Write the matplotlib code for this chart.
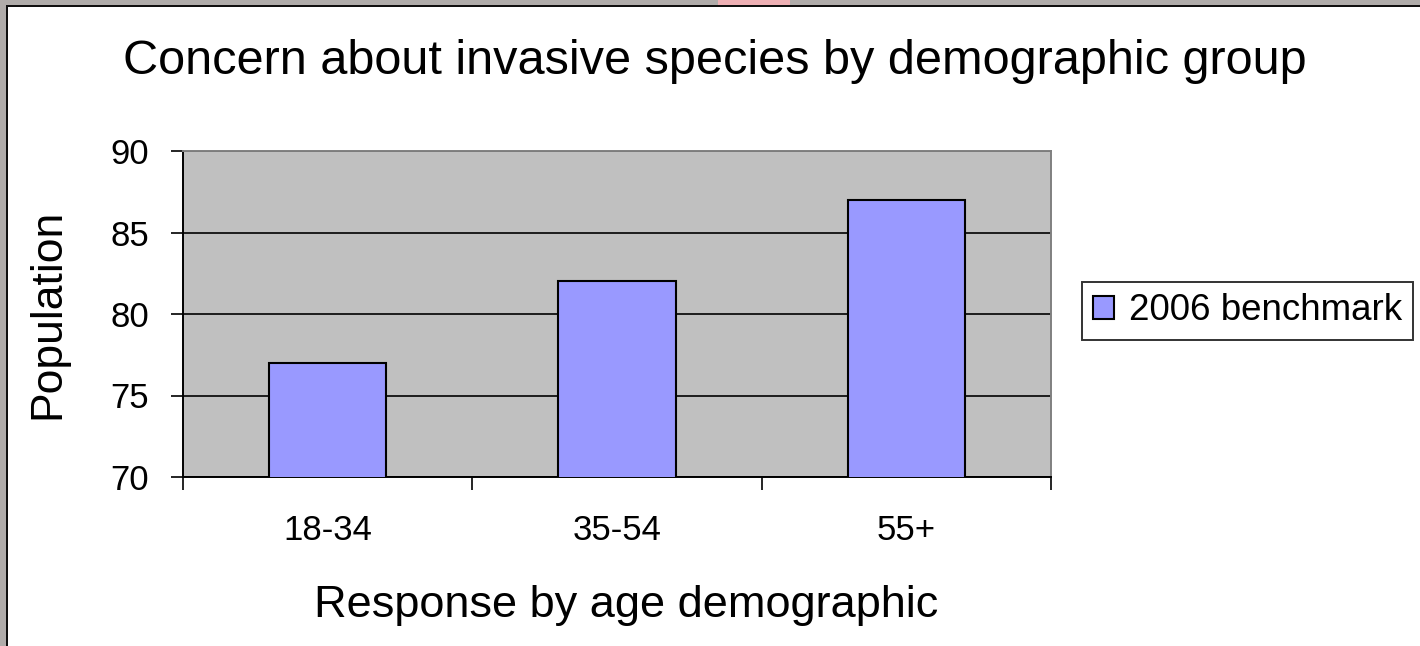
import matplotlib
matplotlib.use("Agg")
import matplotlib.pyplot as plt
from matplotlib.patches import Rectangle
import numpy as np

plt.rcParams['font.family'] = ['Liberation Sans', 'DejaVu Sans']

# survey results
age_groups = ["18-34", "35-54", "55+"]
benchmark_2006 = [77, 82, 87]
y_ticks = [70, 75, 80, 85, 90]

W, H = 1420, 646
fig = plt.figure(figsize=(W / 100, H / 100), dpi=100)
fig.patch.set_facecolor("white")


def px(x0, y0, x1, y1):
    # pixel box (from top-left) -> figure fraction rectangle args
    return (x0 / W, 1 - y1 / H), (x1 - x0) / W, (y1 - y0) / H


# window frame around the chart
for (x0, y0, x1, y1), c in [((0, 0, W, 5), "#b0acaa"), ((0, 0, 6, H), "#b0acaa"),
                            ((6, 5, W, 7), "#101010"), ((6, 5, 8, H), "#101010"),
                            ((718, 0, 790, 5), "#eeb0b4")]:
    xy, w, h = px(x0, y0, x1, y1)
    fig.add_artist(Rectangle(xy, w, h, transform=fig.transFigure, color=c, lw=0))

ax = fig.add_axes([183 / W, 1 - 477 / H, (1051 - 183) / W, (477 - 151) / H])
ax.set_facecolor("#c0c0c0")

x = np.arange(len(age_groups))
ax.bar(x, benchmark_2006, width=0.405, color="#9999ff", edgecolor="black",
       linewidth=1.5, label="2006 benchmark", zorder=3)

ax.set_xlim(-0.5, len(age_groups) - 0.5)
ax.set_ylim(y_ticks[0], y_ticks[-1])
ax.set_yticks(y_ticks)
ax.yaxis.grid(True, color="black", linewidth=1.2, zorder=1)
ax.set_axisbelow(True)

ax.set_xticks(x)
ax.set_xticklabels(age_groups)
ax.set_xticks(np.arange(len(age_groups) + 1) - 0.5, minor=True)
ax.tick_params(axis="x", which="major", length=0, pad=27, labelsize=25)
ax.tick_params(axis="x", which="minor", length=9, width=1.2, direction="out")
ax.tick_params(axis="y", length=8.6, width=1.2, pad=16, labelsize=25)

for s in ["left", "bottom"]:
    ax.spines[s].set_color("black")
    ax.spines[s].set_linewidth(1.4)
for s in ["top", "right"]:
    ax.spines[s].set_color("#808080")
    ax.spines[s].set_linewidth(1.4)

ax.set_ylabel("Population", fontsize=32, va="center")
ax.yaxis.set_label_coords((48 - 183) / 868, 0.5)
ax.set_xlabel("Response by age demographic", fontsize=32.5, va="center")
ax.xaxis.set_label_coords((626 - 183) / 868, (477 - 606) / 326)
fig.text(715 / W, 1 - 62 / H, "Concern about invasive species by demographic group",
         fontsize=35, ha="center", va="center")

leg = ax.legend(loc="center left", bbox_to_anchor=(1082 / W, 1 - 311 / H),
                bbox_transform=fig.transFigure, fontsize=26.5, frameon=True,
                fancybox=False, edgecolor="black", handlelength=0.57,
                handleheight=0.57, handletextpad=0.4, borderpad=0.3,
                borderaxespad=0)
leg.get_frame().set_linewidth(1.4)

fig.savefig("out.png", dpi=100, facecolor="white")
